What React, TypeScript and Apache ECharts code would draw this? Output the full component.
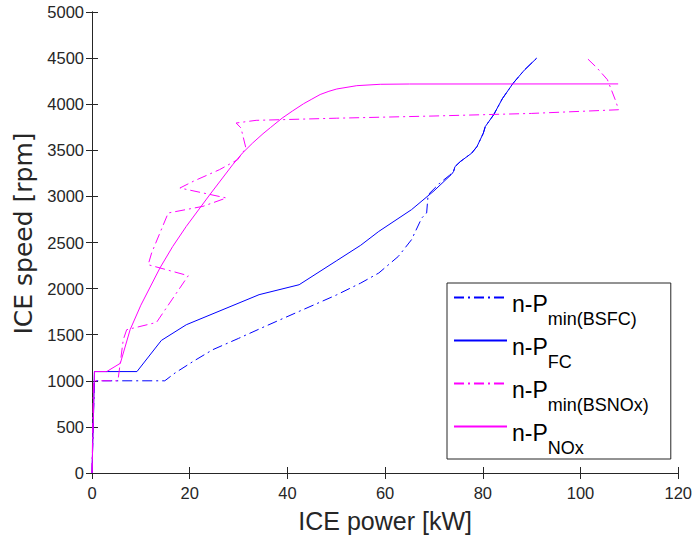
import React, { useEffect, useRef } from "react";
import * as echarts from "echarts";

// ---- data (kW, rpm) ----
const xTicks = [0, 20, 40, 60, 80, 100, 120];
const yTicks = [0, 500, 1000, 1500, 2000, 2500, 3000, 3500, 4000, 4500, 5000];

const bsfcX = [0, 0.5, 14.9, 17, 20.7, 24.7, 30, 35, 42.4, 50, 55, 58.7, 62.7, 65.4, 67.5, 68.5, 68.8, 71.2, 73.2, 74.0, 74.3, 75.4, 77.7, 78.8, 80.1, 80.5, 82.2, 84, 86.2, 88.5, 91];
const bsfcY = [0, 1000, 1000, 1085, 1210, 1337, 1460, 1580, 1753, 1930, 2060, 2169, 2349, 2530, 2766, 2820, 3018, 3145, 3230, 3269, 3323, 3378, 3468, 3540, 3685, 3757, 3884, 4060, 4227, 4370, 4498];

const fcX = [0, 0.5, 9.2, 14.2, 19.3, 34.2, 42.4, 50, 55, 58.7, 65.4, 70, 73.6, 74.0, 74.3, 75.4, 77.7, 78.8, 80.1, 80.5, 82.2, 84, 86.2, 88.5, 91];
const fcY = [0, 1100, 1100, 1438, 1608, 1934, 2042, 2300, 2470, 2620, 2856, 3060, 3240, 3269, 3323, 3378, 3468, 3540, 3685, 3757, 3884, 4060, 4227, 4370, 4498];

const bsnoxX = [0, 0.3, 5.3, 5.8, 6.4, 7.1, 13.2, 19.7, 11.5, 12.2, 15.6, 22.7, 27.5, 18.0, 20.7, 26.1, 29.8, 31.5, 30.5, 29.5, 33.6, 50, 70, 90, 107.8, 107.1, 105.5, 103.4, 101.3];
const bsnoxY = [0, 1000, 1000, 1200, 1446, 1554, 1633, 2140, 2259, 2386, 2820, 2892, 2983, 3091, 3163, 3290, 3398, 3525, 3742, 3796, 3825, 3848, 3872, 3900, 3940, 4049, 4266, 4392, 4500];

const noxX = [0, 0.5, 3, 5.8, 7.8, 10, 13.9, 16.5, 19.3, 24.1, 28.8, 30.8, 32.9, 35, 36.5, 38.9, 41, 43.3, 45, 46.7, 48.5, 50.1, 54.2, 59, 65, 107.7];
const noxY = [0, 1100, 1100, 1190, 1554, 1820, 2223, 2455, 2675, 3018, 3344, 3470, 3580, 3680, 3745, 3848, 3925, 4005, 4055, 4105, 4140, 4165, 4201, 4216, 4219, 4220];

const seriesNames = ["bsfc", "fc", "bsnox", "nox"];
const legendMain = ["n-P", "n-P", "n-P", "n-P"];
const legendSub = ["min(BSFC)", "FC", "min(BSNOx)", "NOx"];

const zip = (xs: number[], ys: number[]) => xs.map((x, i) => [x, ys[i]]);

const AXIS = "#262626";
const FONT = "'Liberation Sans', Arial, sans-serif";
const DASHDOT = [10, 4, 2, 4];

export default function App() {
  const ref = useRef<HTMLDivElement>(null);
  useEffect(() => {
    if (!ref.current) return;
    const chart = echarts.init(ref.current, undefined, { renderer: "svg" });
    const axisCommon = {
      axisLine: { show: true, lineStyle: { color: AXIS, width: 1 } },
      axisTick: { show: true, inside: true, length: 6, lineStyle: { color: AXIS } },
      splitLine: { show: false },
    };
    chart.setOption({
      animation: false,
      backgroundColor: "#fff",
      grid: { left: 92, right: 16, top: 12, bottom: 68, containLabel: false },
      xAxis: [
        {
          type: "value",
          min: xTicks[0],
          max: xTicks[xTicks.length - 1],
          interval: 20,
          position: "bottom",
          ...axisCommon,
          axisLabel: { color: AXIS, fontSize: 16.5, fontFamily: FONT, margin: 11, formatter: (v: number) => String(v) },
          name: "ICE power [kW]",
          nameLocation: "middle",
          nameGap: 35,
          nameTextStyle: { color: AXIS, fontSize: 25, fontFamily: FONT },
        },
        {
          type: "value",
          min: xTicks[0],
          max: xTicks[xTicks.length - 1],
          interval: 20,
          position: "top",
          ...axisCommon,
          axisLabel: { show: false },
        },
      ],
      yAxis: [
        {
          type: "value",
          min: yTicks[0],
          max: yTicks[yTicks.length - 1],
          interval: 500,
          position: "left",
          ...axisCommon,
          axisLabel: { color: AXIS, fontSize: 16.5, fontFamily: FONT, margin: 8, formatter: (v: number) => String(v) },
          name: "ICE speed [rpm]",
          nameLocation: "middle",
          nameGap: 55,
          nameRotate: 90,
          nameTextStyle: {
            color: AXIS,
            fontSize: 25,
            fontFamily: "'DejaVu Sans', sans-serif",
            padding: [0, 0, 0, 18],
          },
        },
        {
          type: "value",
          min: yTicks[0],
          max: yTicks[yTicks.length - 1],
          interval: 500,
          position: "right",
          ...axisCommon,
          axisLabel: { show: false },
        },
      ],
      legend: {
        orient: "vertical",
        left: 447,
        top: 283,
        itemWidth: 53,
        itemHeight: 14,
        itemGap: 0,
        padding: [2, 22, 2, 6],
        backgroundColor: "#fff",
        borderColor: AXIS,
        borderWidth: 1,
        borderRadius: 0,
        itemStyle: { opacity: 0 },
        data: seriesNames,
        formatter: (name: string) => {
          const i = seriesNames.indexOf(name);
          return `{a|${legendMain[i]}}{b|${legendSub[i]}}`;
        },
        textStyle: {
          rich: {
            a: {
              fontSize: 23,
              lineHeight: 25,
              fontFamily: FONT,
              color: "#000",
              verticalAlign: "top",
              padding: [7, 0, 0, 0],
            },
            b: {
              fontSize: 18,
              lineHeight: 19,
              fontFamily: FONT,
              color: "#000",
              verticalAlign: "top",
              padding: [25, 0, 0, 0],
            },
          },
        },
      },
      series: [
        {
          name: "bsfc",
          type: "line",
          data: zip(bsfcX, bsfcY),
          symbol: "none",
          lineStyle: { color: "#0000ff", width: 1, type: DASHDOT },
          itemStyle: { color: "#0000ff" },
        },
        {
          name: "fc",
          type: "line",
          data: zip(fcX, fcY),
          symbol: "none",
          lineStyle: { color: "#0000ff", width: 1 },
          itemStyle: { color: "#0000ff" },
        },
        {
          name: "bsnox",
          type: "line",
          data: zip(bsnoxX, bsnoxY),
          symbol: "none",
          lineStyle: { color: "#ff00ff", width: 1, type: DASHDOT },
          itemStyle: { color: "#ff00ff" },
        },
        {
          name: "nox",
          type: "line",
          data: zip(noxX, noxY),
          symbol: "none",
          lineStyle: { color: "#ff00ff", width: 1 },
          itemStyle: { color: "#ff00ff" },
        },
      ],
    });
    return () => chart.dispose();
  }, []);
  return (
    <div
      ref={ref}
      style={{ position: "absolute", left: 0, top: 0, width: 695, height: 541 }}
    />
  );
}
